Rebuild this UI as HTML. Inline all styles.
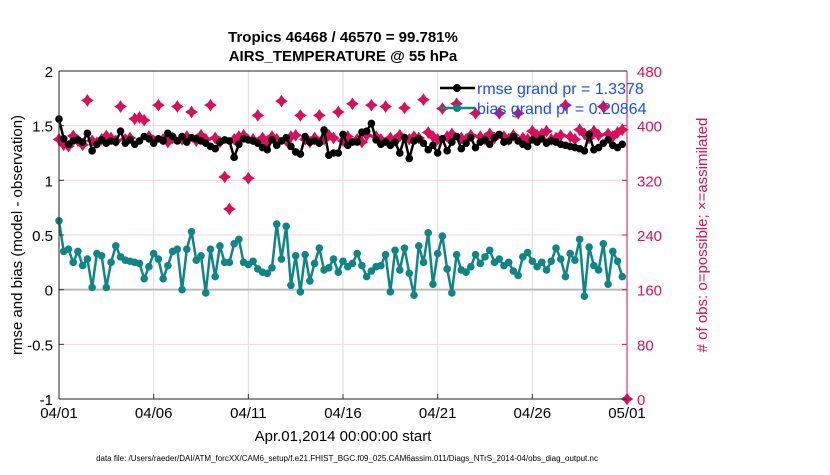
<!DOCTYPE html>
<html><head><meta charset="utf-8"><style>
body{margin:0;background:#fff;width:830px;height:470px;overflow:hidden}
svg{font-family:"Liberation Sans",Arial,sans-serif}
</style></head><body>
<svg id="chart" width="830" height="470" viewBox="0 0 830 470" xmlns="http://www.w3.org/2000/svg">
<text x="343" y="42" font-size="15" font-weight="bold" text-anchor="middle">Tropics 46468 / 46570 = 99.781%</text>
<text x="343" y="61" font-size="15" font-weight="bold" text-anchor="middle">AIRS_TEMPERATURE @ 55 hPa</text>
<g id="grid"></g>
<g id="series"></g>
<g id="axes"></g>
<text transform="translate(22,235) rotate(-90)" font-size="15" text-anchor="middle">rmse and bias (model - observation)</text>
<text transform="translate(707,235) rotate(-90)" font-size="15" fill="#d6105a" text-anchor="middle"># of obs: o=possible; ×=assimilated</text>
<text x="343" y="441" font-size="15" text-anchor="middle">Apr.01,2014 00:00:00 start</text>
<text x="347" y="461" font-size="8" text-anchor="middle">data file: /Users/raeder/DAI/ATM_forcXX/CAM6_setup/f.e21.FHIST_BGC.f09_025.CAM6assim.011/Diags_NTrS_2014-04/obs_diag_output.nc</text>
<g id="legend"></g>
</svg>
<script>
const rmse=[1.56,1.38,1.33,1.36,1.37,1.35,1.43,1.27,1.33,1.37,1.34,1.36,1.35,1.45,1.34,1.37,1.33,1.36,1.40,1.38,1.34,1.38,1.36,1.43,1.40,1.36,1.40,1.35,1.39,1.38,1.36,1.34,1.31,1.29,1.35,1.37,1.36,1.21,1.33,1.38,1.37,1.36,1.34,1.30,1.28,1.37,1.32,1.36,1.39,1.31,1.26,1.24,1.40,1.35,1.36,1.34,1.46,1.23,1.25,1.25,1.42,1.32,1.35,1.35,1.44,1.45,1.52,1.37,1.33,1.35,1.32,1.35,1.25,1.39,1.20,1.36,1.38,1.34,1.28,1.32,1.25,1.38,1.27,1.35,1.40,1.29,1.34,1.39,1.30,1.35,1.37,1.33,1.39,1.42,1.35,1.36,1.40,1.36,1.33,1.31,1.37,1.35,1.38,1.34,1.36,1.35,1.33,1.32,1.31,1.30,1.29,1.27,1.42,1.28,1.30,1.34,1.37,1.32,1.30,1.33];
const bias=[0.63,0.35,0.37,0.25,0.35,0.22,0.28,0.02,0.33,0.31,0.02,0.25,0.40,0.30,0.27,0.26,0.25,0.24,0.10,0.21,0.33,0.28,0.10,0.22,0.35,0.37,0.00,0.37,0.53,0.27,0.31,-0.03,0.37,0.12,0.40,0.25,0.25,0.42,0.46,0.25,0.23,0.26,0.19,0.16,0.15,0.20,0.60,0.28,0.58,0.04,0.31,-0.02,0.32,0.08,0.24,0.38,0.18,0.20,0.28,0.16,0.26,0.21,0.24,0.33,0.22,0.12,0.17,0.21,0.22,0.32,-0.02,0.36,0.18,0.38,0.15,-0.05,0.40,0.25,0.52,0.05,0.33,0.49,0.19,-0.03,0.32,0.18,0.16,0.21,0.32,0.24,0.30,0.36,0.25,0.28,0.22,0.25,0.17,0.13,0.30,0.34,0.26,0.21,0.25,0.18,0.26,0.38,0.28,0.12,0.33,0.27,0.46,-0.06,0.39,0.22,0.18,0.42,0.05,0.35,0.26,0.12];
const obsCount=[380,372,370,385,378,372,437,378,375,380,385,382,378,428,380,382,410,412,408,384,378,430,380,376,382,428,380,384,420,378,386,380,430,382,376,325,278,380,384,386,323,380,415,382,376,384,380,436,378,384,386,415,380,376,382,415,380,386,382,420,378,384,432,380,376,386,430,384,380,428,382,378,386,426,380,384,382,438,390,384,380,425,384,388,432,382,380,386,418,384,380,388,382,418,384,380,386,418,382,380,392,386,388,392,380,382,386,430,384,380,394,388,382,392,386,428,388,384,390,394,0];
const xTickLabels=["04/01","04/06","04/11","04/16","04/21","04/26","05/01"];
const yLeftTicks=[-1,-0.5,0,0.5,1,1.5,2];
const yRightTicks=[0,80,160,240,320,400,480];
const legendLabels=["rmse grand pr = 1.3378","bias grand pr = 0.20864"];

const X0=59,X1=627,Y0=399,Y1=71;
const xs=d=>X0+(d/30)*(X1-X0);
const yl=v=>Y0-(v+1)/3*(Y0-Y1);
const yr=v=>Y0-v/480*(Y0-Y1);
const NS="http://www.w3.org/2000/svg";
function mk(tag,attrs,parent,txt){const e=document.createElementNS(NS,tag);for(const k in attrs)e.setAttribute(k,attrs[k]);if(txt!==undefined)e.textContent=txt;parent.appendChild(e);return e;}
const grid=document.getElementById('grid'),ser=document.getElementById('series'),ax=document.getElementById('axes'),leg=document.getElementById('legend');

xTickLabels.forEach((l,i)=>{const x=xs(i*5);
 const g=mk('line',{x1:x,x2:x,y1:Y1,y2:Y0,stroke:'#dcdcdc','stroke-width':1},grid);
 
 
 const t=mk('text',{x:x,y:Y0+19,'font-size':15,'text-anchor':'middle'},ax,l);
 
 
 mk('line',{x1:x,x2:x,y1:Y0,y2:Y0-5,stroke:'#333'},ax);
});
yRightTicks.forEach(v=>{const y=yr(v);
 const g=mk('line',{x1:X0,x2:X1,y1:y,y2:y,stroke:'#f6d5e2','stroke-width':1},grid);
 
 
 const t=mk('text',{x:X1+10,y:y+6,'font-size':15,fill:'#d6105a'},ax,String(v));
 
 
 mk('line',{x1:X1,x2:X1-5,y1:y,y2:y,stroke:'#d6105a'},ax);
});
yLeftTicks.forEach(v=>{const y=yl(v);
 const t=mk('text',{x:X0-6,y:y+6,'font-size':15,'text-anchor':'end'},ax,String(v));
 
 
 mk('line',{x1:X0,x2:X0+5,y1:y,y2:y,stroke:'#333'},ax);
});
const zl=mk('line',{x1:X0,x2:X1,y1:yl(0),y2:yl(0),stroke:'#bbb','stroke-width':2},grid);


const la=mk('line',{x1:X0,x2:X0,y1:Y1,y2:Y0,stroke:'#222'},ax);


const ra=mk('line',{x1:X1,x2:X1,y1:Y1,y2:Y0,stroke:'#d6105a'},ax);


mk('line',{x1:X0,x2:X1,y1:Y0,y2:Y0,stroke:'#222'},ax);
mk('line',{x1:X0,x2:X1,y1:Y1,y2:Y1,stroke:'#222'},ax);

function star(x,y,parent){
 return mk('path',{d:`M${x-5},${y}L${x-2},${y-2}L${x},${y-5}L${x+2},${y-2}L${x+5},${y}L${x+2},${y+2}L${x},${y+5}L${x-2},${y+2}Z`,fill:'#d6105a',stroke:'#d6105a','stroke-width':1.5},parent);
}
obsCount.forEach((v,i)=>{const d=i/4;
 const p=star(xs(d),yr(v),ser);
 
 
});
function series(vals,color,name){
 const pts=vals.map((v,i)=>xs(i/4)+','+yl(v)).join(' ');
 const pl=mk('polyline',{points:pts,fill:'none',stroke:color,'stroke-width':2.5},ser);
 
 
 vals.forEach((v,i)=>{const c=mk('circle',{cx:xs(i/4),cy:yl(v),r:3.8,fill:color},ser);
  
  });
}
series(bias,'#0f8585','bias');
series(rmse,'#000','rmse');

[['#000',legendLabels[0],88],['#0f8585',legendLabels[1],108]].forEach(([c,l,y],k)=>{
 mk('line',{x1:440,x2:475,y1:y,y2:y,stroke:c,'stroke-width':2.5},leg);
 mk('circle',{cx:457,cy:y,r:4,fill:c},leg);
 const t=mk('text',{x:477,y:y+6,'font-size':16,fill:'#1a4cff'},leg,l);
 
 
});
</script>
</body></html>
